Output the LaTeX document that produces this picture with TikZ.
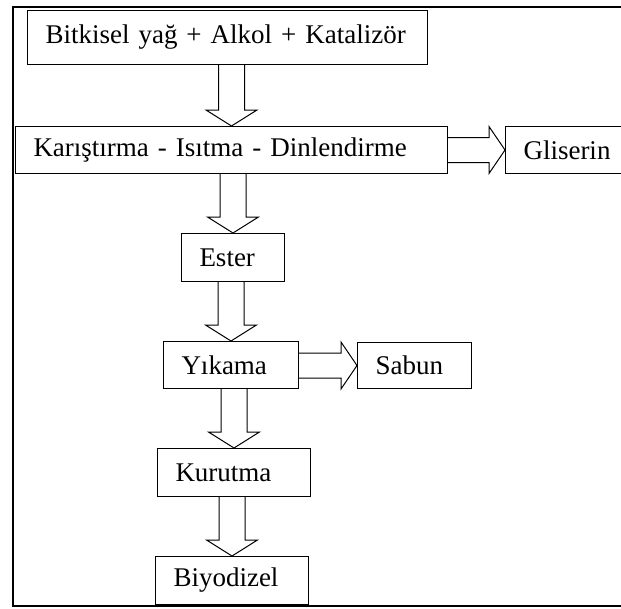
\documentclass[tikz,border=0pt]{standalone}
\usepackage{fontspec}
\setmainfont{Liberation Serif}
\usepackage{tikz}
\usetikzlibrary{calc}

\tikzset{
  kutu/.style={draw, line width=1pt, anchor=north west, inner xsep=18pt, inner ysep=0pt,
    align=left, font=\fontsize{27}{32}\selectfont},
  cerceve/.style={draw, line width=2pt},
  okcizgi/.style={draw, line width=1pt, line join=miter},
}

% hollow block arrows between two nodes
\newcommand{\asagiok}[2]{%
  \draw[okcizgi] let \p1=(#1.south), \p2=(#2.north) in
    (\x2-13pt,\y1) -- (\x2-13pt,\y2+16pt) -- (\x2-25.5pt,\y2+16pt) -- (\p2)
    -- (\x2+25.5pt,\y2+16pt) -- (\x2+13pt,\y2+16pt) -- (\x2+13pt,\y1);}
\newcommand{\sagok}[2]{%
  \draw[okcizgi] let \p1=(#1.east), \p2=(#2.west) in
    (\x1,\y2+12.5pt) -- (\x2-16pt,\y2+12.5pt) -- (\x2-16pt,\y2+23.5pt) -- (\p2)
    -- (\x2-16pt,\y2-23.5pt) -- (\x2-16pt,\y2-12.5pt) -- (\x1,\y2-12.5pt);}

\begin{document}
\begin{tikzpicture}[x=1pt, y=-1pt]
    \clip (0,0) rectangle (621,608);
    \draw[cerceve] (13,7) rectangle (650,606); %

    \node[kutu, text width=364pt, minimum height=54pt] (yag) at (27,10) {Bitkisel yağ + Alkol + Katalizör} ; %
    \node[kutu, text width=396pt, minimum height=47pt] (karis) at (15,126) {Karıştırma - Isıtma - Dinlendirme} ; %
    \node[kutu, text width=91pt, minimum height=47pt] (glis) at (505,126) {Gliserin} ; %
    \node[kutu, text width=67pt, minimum height=48pt] (ester) at (181,233) {Ester} ; %
    \node[kutu, text width=99pt, minimum height=47pt] (yika) at (163,341) {Yıkama} ; %
    \node[kutu, text width=78pt, minimum height=46pt] (sabun) at (357,342) {Sabun} ; %
    \node[kutu, text width=117pt, minimum height=48pt] (kuru) at (157,448) {Kurutma} ; %
    \node[kutu, text width=117pt, minimum height=48pt] (biyo) at (155,556) {Biyodizel} ; %

    \asagiok{yag}{karis} %
    \sagok{karis}{glis} %
    \asagiok{karis}{ester} %
    \asagiok{ester}{yika} %
    \sagok{yika}{sabun} %
    \asagiok{yika}{kuru} %
    \asagiok{kuru}{biyo} %
\end{tikzpicture}
\end{document}
